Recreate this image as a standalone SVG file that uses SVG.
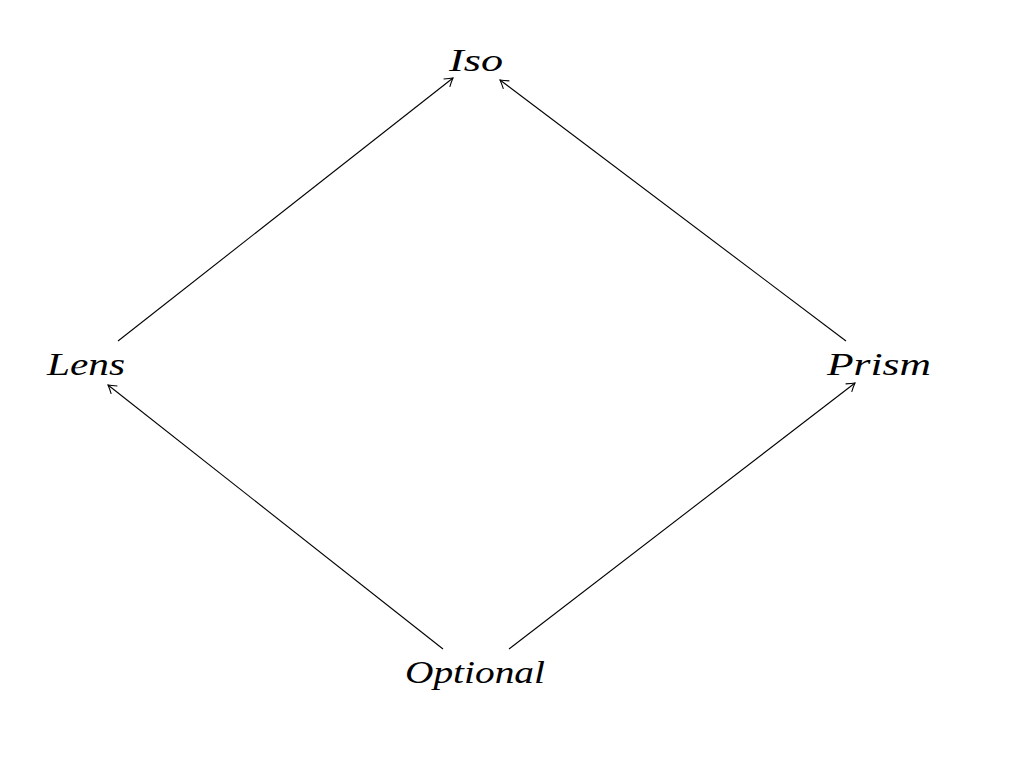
<svg xmlns="http://www.w3.org/2000/svg" width="1020" height="760" viewBox="0 0 1020 760">
<style>
.lbl{font-family:"Liberation Serif","DejaVu Serif",serif;font-style:italic;font-size:31px;fill:#000;text-anchor:start}
.edge{stroke:#000;stroke-width:1.1;fill:none;marker-end:url(#to)}
</style>
<defs>
<marker id="to" viewBox="-10 -6 12 12" markerWidth="12" markerHeight="12" refX="0" refY="0" orient="auto" markerUnits="userSpaceOnUse">
<path d="M-8,-5 Q-3,-1.5 0,0 Q-3,1.5 -8,5" stroke="#000" stroke-width="1.1" fill="none"/>
</marker>
</defs>
<rect width="1020" height="760" fill="#fff"/>
<g id="connectors">
<line class="edge" x1="118" y1="341" x2="453" y2="78"/>
<line class="edge" x1="846" y1="341" x2="500" y2="80"/>
<line class="edge" x1="443" y1="649" x2="108" y2="385"/>
<line class="edge" x1="509" y1="649" x2="855" y2="383"/>
</g>
<g id="iso"><text class="lbl" x="449" y="71" textLength="54" lengthAdjust="spacingAndGlyphs">Iso</text></g>
<g id="lens"><text class="lbl" x="47" y="375" textLength="78" lengthAdjust="spacingAndGlyphs">Lens</text></g>
<g id="prism"><text class="lbl" x="827" y="375" textLength="104" lengthAdjust="spacingAndGlyphs">Prism</text></g>
<g id="optional"><text class="lbl" x="405" y="683" textLength="140" lengthAdjust="spacingAndGlyphs">Optional</text></g>
</svg>
